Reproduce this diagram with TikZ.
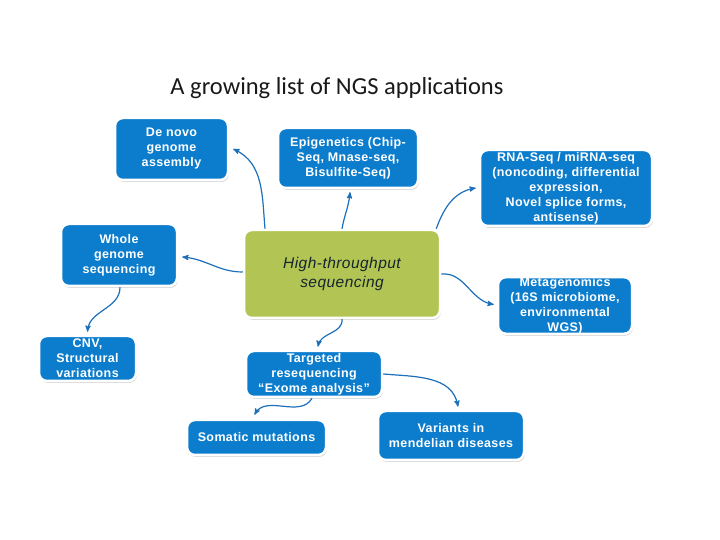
\documentclass[tikz,border=0pt]{standalone}
\usepackage{fontspec}
\setmainfont{Liberation Sans}
\newfontfamily\appsans[LetterSpace=3]{Liberation Sans}
\newfontfamily\titlefont{Carlito}
\usetikzlibrary{arrows, shadows}
\definecolor{appblue}{RGB}{12,125,205}
\definecolor{arrowblue}{RGB}{28,112,186}
\definecolor{htgreen}{RGB}{178,197,84}
\definecolor{httext}{RGB}{22,36,44}
\tikzset{
	>=stealth',
	x=1pt, y=1pt,
	app/.style={rectangle, rounded corners=8pt, fill=appblue, draw=white, line width=2.5pt,
		drop shadow={shadow xshift=1pt, shadow yshift=-2pt, opacity=0.3},
		text=white, align=center, inner sep=1pt,
		font=\appsans\bfseries\fontsize{12.5}{15}\selectfont},
	hub/.style={app, fill=htgreen, text=httext, font=\appsans\itshape\fontsize{15.5}{19}\selectfont},
	link/.style={->, draw=arrowblue, line width=1.2pt},
	heading/.style={font=\titlefont\fontsize{24.5}{28}\selectfont, text=black!90}}

\begin{document}
\begin{tikzpicture}
	\useasboundingbox (0,0) rectangle (720,540);

	\node[heading] (title) at (337,452) {A growing list of NGS applications};

	\node[hub, minimum width=196pt, minimum height=88pt] (ht) at (342,266) {High-throughput\\sequencing};

	\node[app, minimum width=113pt, minimum height=62pt] (denovo) at (171.5,391) {De novo\\genome\\assembly};
	\node[app, minimum width=140pt, minimum height=60pt] (epi) at (348,382) {Epigenetics (Chip-\\Seq, Mnase-seq,\\Bisulfite-Seq)};
	\node[app, minimum width=172pt, minimum height=76pt, inner ysep=0pt] (rna) at (566,352) {RNA-Seq / miRNA-seq\\(noncoding, differential\\expression,\\Novel splice forms,\\antisense)};
	\node[app, minimum width=116pt, minimum height=62pt] (wgs) at (119,285) {Whole\\genome\\sequencing};
	\node[app, minimum width=134pt, minimum height=55pt, inner ysep=0pt] (meta) at (565,234.5) {Metagenomics\\(16S microbiome,\\environmental\\WGS)};
	\node[app, minimum width=97pt, minimum height=45pt] (cnv) at (87.5,181.5) {CNV,\\Structural\\variations};
	\node[app, minimum width=136pt, minimum height=46pt] (target) at (314,166) {Targeted\\resequencing\\“Exome analysis”};
	\node[app, minimum width=139pt, minimum height=35pt] (somatic) at (256.5,102.5) {Somatic mutations};
	\node[app, minimum width=146pt, minimum height=49pt] (variants) at (451,104.5) {Variants in\\mendelian diseases};

	\path[every edge/.style={link}]
	([xshift=-77pt]ht.north) edge[out=95, in=-25] ([xshift=4pt]denovo.east)
	(ht.north) edge[out=80, in=-95] ([shift={(2pt,-3pt)}]epi.south)
	([xshift=-5pt]ht.north east) edge[out=70, in=190] ([xshift=-3pt]rna.west)
	([yshift=2pt]ht.west) edge[out=180, in=-5] ([shift={(4pt,-2pt)}]wgs.east)
	(ht.east) edge[out=5, in=170] ([shift={(-3pt,1pt)}]meta.west)
	([xshift=1pt]wgs.south) edge[out=-90, in=85] ([yshift=3pt]cnv.north)
	(ht.south) edge[out=-85, in=80] ([shift={(4pt,3pt)}]target.north)
	([xshift=-2pt]target.south) edge[out=-120, in=60] ([shift={(-2pt,4pt)}]somatic.north)
	(target.east) edge[out=-5, in=100] ([shift={(7pt,3pt)}]variants.north)
	;
\end{tikzpicture}
\end{document}
